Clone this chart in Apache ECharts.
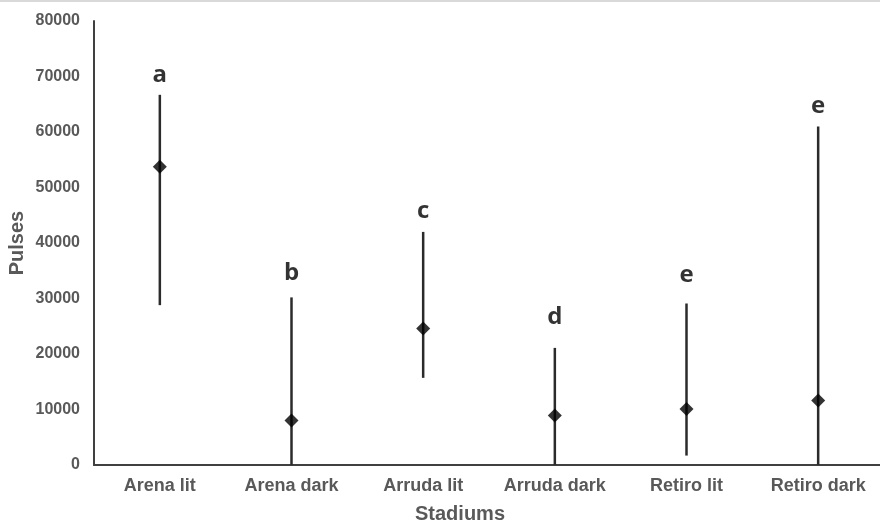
<!DOCTYPE html>
<html>
<head>
<meta charset="utf-8">
<script src="https://cdn.jsdelivr.net/npm/echarts@6/dist/echarts.min.js"></script>
<style>
html,body{margin:0;padding:0;background:#fff;}
#chart{width:880px;height:525px;}
</style>
</head>
<body>
<div id="chart"></div>
<script>
const categories = ['Arena lit', 'Arena dark', 'Arruda lit', 'Arruda dark', 'Retiro lit', 'Retiro dark'];
const means = [53750, 8000, 24600, 8900, 10100, 11600];
const lows = [28800, 0, 15700, 0, 1700, 0];
const highs = [66700, 30200, 42000, 21100, 29100, 61000];
const letters = ['a', 'b', 'c', 'd', 'e', 'e'];
const letterHeights = [70300, 34600, 45800, 26700, 34200, 64600];
const yMin = 0, yMax = 80000, yStep = 10000;

const chart = echarts.init(document.getElementById('chart'), null, {renderer: 'canvas'});
const gray = '#595959';
const axisColor = '#404040';

chart.setOption({
  animation: false,
  backgroundColor: '#fff',
  graphic: [{
    type: 'rect', left: 0, top: 0, z: 10,
    shape: {width: 880, height: 2},
    style: {fill: '#d9d9d9'}
  }],
  grid: {left: 94, top: 21, width: 790, height: 444, containLabel: false, outerBoundsMode: 'none'},
  xAxis: {
    type: 'category',
    data: categories,
    boundaryGap: true,
    axisLine: {lineStyle: {color: axisColor, width: 2}},
    axisTick: {show: false},
    splitLine: {show: false},
    axisLabel: {interval: 0, color: gray, fontWeight: 'bold', fontSize: 18, fontFamily: 'Liberation Sans', margin: 12},
    name: 'Stadiums',
    nameLocation: 'middle',
    nameGap: 39,
    nameMoveOverlap: false,
    nameTextStyle: {color: gray, fontWeight: 'bold', fontSize: 20, fontFamily: 'Liberation Sans', padding: [0, 58, 0, 0]}
  },
  yAxis: {
    type: 'value',
    min: yMin, max: yMax, interval: yStep,
    axisLine: {show: true, lineStyle: {color: axisColor, width: 2}},
    axisTick: {show: false},
    splitLine: {show: false},
    axisLabel: {formatter: v => String(v), color: gray, fontWeight: 'bold', fontSize: 16, fontFamily: 'Liberation Sans', margin: 14},
    name: 'Pulses',
    nameLocation: 'middle',
    nameGap: 67,
    nameMoveOverlap: false,
    nameRotate: 90,
    nameTextStyle: {color: gray, fontWeight: 'bold', fontSize: 20, fontFamily: 'Liberation Sans'}
  },
  series: [
    {
      type: 'custom',
      z: 2,
      data: categories.map((c, i) => [i, lows[i], highs[i]]),
      renderItem: function (params, api) {
        const p1 = api.coord([api.value(0), api.value(1)]);
        const p2 = api.coord([api.value(0), api.value(2)]);
        return {
          type: 'line',
          shape: {x1: p1[0], y1: p1[1], x2: p2[0], y2: p2[1]},
          style: {stroke: '#2b2b2b', lineWidth: 2.5}
        };
      }
    },
    {
      type: 'scatter',
      z: 3,
      symbol: 'diamond',
      symbolSize: 14,
      itemStyle: {color: '#000'},
      data: categories.map((c, i) => [i, means[i]])
    },
    {
      type: 'scatter',
      z: 4,
      symbolSize: 0,
      itemStyle: {color: 'rgba(0,0,0,0)'},
      label: {
        show: true,
        position: 'inside',
        formatter: p => letters[p.dataIndex],
        color: '#000',
        fontWeight: 'bold',
        fontSize: 24,
        fontFamily: 'Open Sans'
      },
      data: categories.map((c, i) => [i, letterHeights[i]])
    }
  ]
});
</script>
</body>
</html>
